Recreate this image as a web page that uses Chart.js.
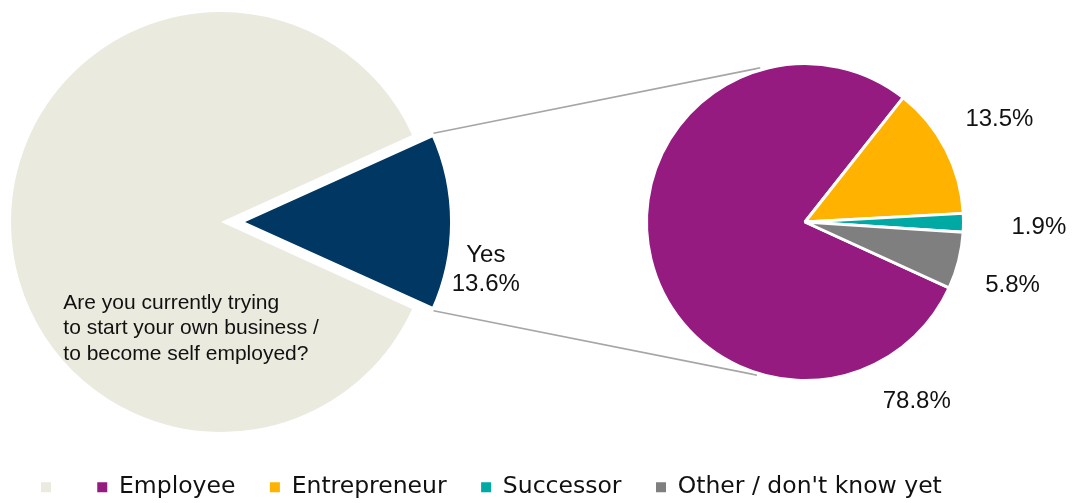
<!DOCTYPE html>
<html><head><meta charset="utf-8">
<script src="https://cdn.jsdelivr.net/npm/chart.js@4.4.0/dist/chart.umd.min.js"></script>
<style>
html,body{margin:0;padding:0;background:#fff;}
#wrap{position:relative;width:1074px;height:503px;overflow:hidden;background:#fff;}
#wrap canvas{position:absolute;left:0;top:0;}
</style></head><body>
<div id="wrap"><canvas id="left" width="1074" height="503"></canvas><canvas id="right" width="1074" height="503"></canvas></div>
<script>
// ---- data ----
const outerCategories = ['No', 'Yes'];
const outerValues = [86.4, 13.6];
const outerLegendText = '';
const detailCategories = ['Employee', 'Entrepreneur', 'Successor', "Other / don't know yet"];
const detailValues = [78.8, 13.5, 1.9, 5.8];
const questionLines = ['Are you currently trying', 'to start your own business /', 'to become self employed?'];

// ---- styles ----
const outerColors = ['#EAEADF', '#003763'];
const detailColors = ['#951B81', '#FFB300', '#00A9A4', '#7F7F7F'];
const TEXT = '#111111';
const LABEL_FONT = '24px "Liberation Sans", Arial, sans-serif';
const Q_FONT = '21px "Liberation Sans", Arial, sans-serif';
const fmt = v => v.toFixed(1) + '%';
const rad = d => d * Math.PI / 180;

const placeArea = {
  id: 'placeArea',
  afterLayout(chart, args, o) {
    chart.chartArea = {left: o.cx - o.r, top: o.cy - o.r, right: o.cx + o.r, bottom: o.cy + o.r, width: 2 * o.r, height: 2 * o.r};
  }
};

function arcGeom(arc) {
  const off = (arc.options.offset || 0) / 4;
  const mid = (arc.startAngle + arc.endAngle) / 2;
  const fix = 1 - Math.sin(Math.min(Math.PI, arc.circumference));
  return {cx: arc.x + Math.cos(mid) * off, cy: arc.y + Math.sin(mid) * off,
          r: arc.outerRadius + off * fix, start: arc.startAngle, end: arc.endAngle, mid};
}

const leftText = {
  id: 'leftText',
  afterDatasetsDraw(chart) {
    const ctx = chart.ctx;
    const meta = chart.getDatasetMeta(0);
    const base = meta.data[0];
    const yes = arcGeom(meta.data[1]);
    ctx.save();
    ctx.fillStyle = TEXT;
    ctx.font = LABEL_FONT;
    ctx.textAlign = 'center';
    ctx.textBaseline = 'middle';
    const lx = yes.cx + yes.r + 33;
    ctx.fillText(outerCategories[1], lx, yes.cy + 33);
    ctx.fillText(fmt(outerValues[1]), lx, yes.cy + 62.5);
    ctx.font = Q_FONT;
    ctx.textAlign = 'left';
    ctx.textBaseline = 'alphabetic';
    questionLines.forEach((t, i) => ctx.fillText(t, base.x - 157.7, base.y + 86.5 + i * 25.5));
    ctx.restore();
  }
};

const leftChart = new Chart(document.getElementById('left'), {
  type: 'pie',
  data: {
    labels: outerCategories,
    datasets: [{
      data: outerValues,
      backgroundColor: outerColors,
      borderColor: '#ffffff',
      borderWidth: [0, 5.5],
      offset: [0, 70]
    }]
  },
  options: {
    responsive: false,
    animation: false,
    events: [],
    rotation: 114.48,
    radius: 210,
    layout: {padding: {left: 6.5}},
    plugins: {
      placeArea: {cx: 221, cy: 222, r: 211},
      tooltip: {enabled: false},
      legend: {
        position: 'bottom',
        align: 'start',
        maxHeight: 62,
        onClick: () => {},
        labels: {
          boxWidth: 10,
          boxHeight: 10,
          padding: 34.5,
          color: TEXT,
          font: {family: '"DejaVu Sans", sans-serif', size: 23.5},
          generateLabels: () => [
            {text: outerLegendText, fillStyle: outerColors[0], strokeStyle: outerColors[0], lineWidth: 0, hidden: false, index: 0, fontColor: TEXT}
          ].concat(detailCategories.map((c, i) => ({
            text: c, fillStyle: detailColors[i], strokeStyle: detailColors[i], lineWidth: 0, hidden: false, index: i + 1, fontColor: TEXT
          })))
        }
      }
    }
  },
  plugins: [placeArea, leftText]
});

// right pie: label placement (angle delta from slice middle, radius factor)
const detailLabelPlacement = [{da: -108.3, k: 1.336}, {da: -0.4, k: 1.387}, {da: 1.1, k: 1.476}, {da: 2.7, k: 1.368}];
const connectorAngles = [-106.2, 107.4];

const rightDecor = {
  id: 'rightDecor',
  beforeDatasetsDraw(chart) {
    const ctx = chart.ctx;
    const rmeta = chart.getDatasetMeta(0);
    const a0 = rmeta.data[0];
    const yes = arcGeom(leftChart.getDatasetMeta(0).data[1]);
    const corners = [yes.start, yes.end].map(a => [yes.cx + Math.cos(a) * yes.r, yes.cy + Math.sin(a) * yes.r]);
    ctx.save();
    ctx.strokeStyle = '#A6A6A6';
    ctx.lineWidth = 1.6;
    connectorAngles.forEach((deg, i) => {
      const rr = a0.outerRadius + 2;
      ctx.beginPath();
      ctx.moveTo(corners[i][0], corners[i][1]);
      ctx.lineTo(a0.x + Math.cos(rad(deg)) * rr, a0.y + Math.sin(rad(deg)) * rr);
      ctx.stroke();
    });
    ctx.restore();
  },
  afterDatasetsDraw(chart) {
    const ctx = chart.ctx;
    const meta = chart.getDatasetMeta(0);
    ctx.save();
    ctx.fillStyle = TEXT;
    ctx.font = LABEL_FONT;
    ctx.textAlign = 'center';
    ctx.textBaseline = 'middle';
    meta.data.forEach((arc, i) => {
      const p = detailLabelPlacement[i];
      const a = (arc.startAngle + arc.endAngle) / 2 + rad(p.da);
      const d = arc.outerRadius * p.k;
      ctx.fillText(fmt(detailValues[i]), arc.x + Math.cos(a) * d, arc.y + Math.sin(a) * d);
    });
    ctx.restore();
  }
};

const rightChart = new Chart(document.getElementById('right'), {
  type: 'pie',
  data: {
    labels: detailCategories,
    datasets: [{
      data: detailValues,
      backgroundColor: detailColors,
      borderColor: '#ffffff',
      borderWidth: 3
    }]
  },
  options: {
    responsive: false,
    animation: false,
    events: [],
    rotation: 114.6,
    radius: 158.5,
    plugins: {
      placeArea: {cx: 805, cy: 222, r: 160},
      tooltip: {enabled: false},
      legend: {display: false}
    }
  },
  plugins: [placeArea, rightDecor]
});
</script>
</body></html>
